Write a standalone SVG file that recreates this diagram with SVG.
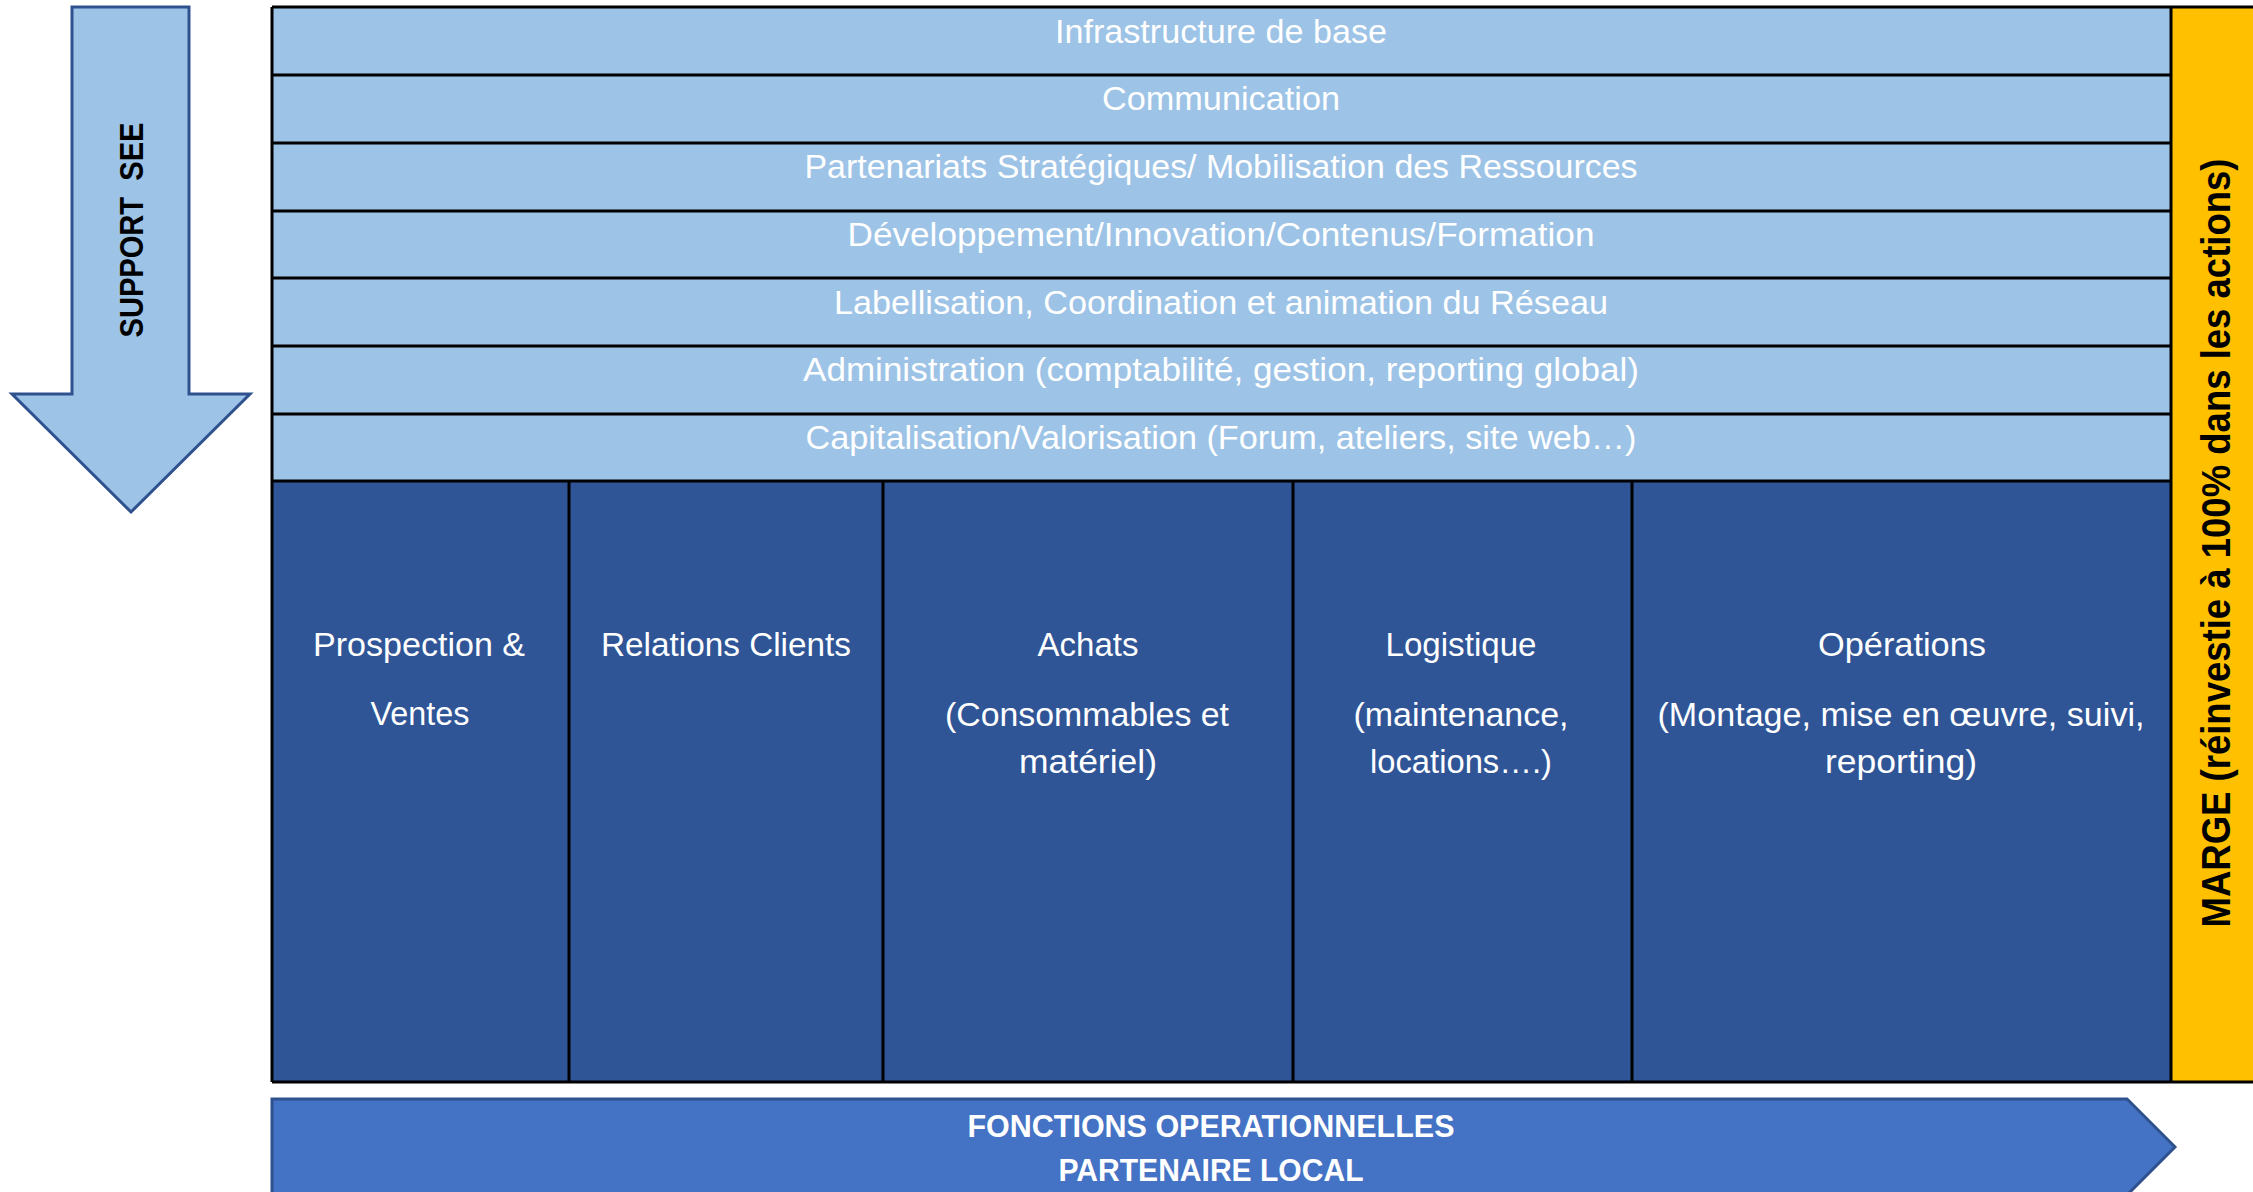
<svg xmlns="http://www.w3.org/2000/svg" width="2253" height="1192" viewBox="0 0 2253 1192">
<style>
.row{fill:#9DC3E6}
.dark{fill:#2F5597}
.grid{stroke:#000;stroke-width:3;fill:none}
.t{font-family:"Liberation Sans",Arial,sans-serif;font-size:33px;fill:#fff;text-anchor:middle}
.b{font-family:"Liberation Sans",Arial,sans-serif;font-weight:bold;text-anchor:middle}
</style>
<rect width="2253" height="1192" fill="#fff"/>
<g id="support-arrow">
<polygon points="72,7 189,7 189,394 250,394 131,512 12,394 72,394" fill="#9DC3E6" stroke="#2F528F" stroke-width="3"/>
<text class="b" xml:space="preserve" style="white-space:pre" font-size="33" fill="#000" transform="translate(143,230) rotate(-90)" textLength="215" lengthAdjust="spacingAndGlyphs">SUPPORT  SEE</text>
</g>
<g id="marge">
<rect x="2171" y="7" width="82" height="1075" fill="#FFC000"/>
<text class="b" font-size="40" fill="#000" transform="translate(2230,543) rotate(-90)" textLength="769" lengthAdjust="spacingAndGlyphs">MARGE (réinvestie à 100% dans les actions)</text>
</g>
<g id="support-rows">
<rect class="row" x="272" y="7" width="1899" height="474"/>
<g id="row1"><text class="t" x="1221" y="43" textLength="332" lengthAdjust="spacingAndGlyphs">Infrastructure de base</text></g>
<g id="row2"><text class="t" x="1221" y="110" textLength="238" lengthAdjust="spacingAndGlyphs">Communication</text></g>
<g id="row3"><text class="t" x="1221" y="178" textLength="833" lengthAdjust="spacingAndGlyphs">Partenariats Stratégiques/ Mobilisation des Ressources</text></g>
<g id="row4"><text class="t" x="1221" y="246" textLength="747" lengthAdjust="spacingAndGlyphs">Développement/Innovation/Contenus/Formation</text></g>
<g id="row5"><text class="t" x="1221" y="314" textLength="774" lengthAdjust="spacingAndGlyphs">Labellisation, Coordination et animation du Réseau</text></g>
<g id="row6"><text class="t" x="1221" y="381" textLength="836" lengthAdjust="spacingAndGlyphs">Administration (comptabilité, gestion, reporting global)</text></g>
<g id="row7"><text class="t" x="1221" y="449" textLength="831" lengthAdjust="spacingAndGlyphs">Capitalisation/Valorisation (Forum, ateliers, site web…)</text></g>
</g>
<g id="operations">
<rect class="dark" x="272" y="481" width="1899" height="601"/>
<g id="col1">
<text class="t" x="419" y="656" textLength="212" lengthAdjust="spacingAndGlyphs">Prospection &amp;</text>
<text class="t" x="420" y="725" textLength="99" lengthAdjust="spacingAndGlyphs">Ventes</text>
</g>
<g id="col2">
<text class="t" x="726" y="656" textLength="250" lengthAdjust="spacingAndGlyphs">Relations Clients</text>
</g>
<g id="col3">
<text class="t" x="1088" y="656" textLength="101" lengthAdjust="spacingAndGlyphs">Achats</text>
<text class="t" x="1087" y="726" textLength="284" lengthAdjust="spacingAndGlyphs">(Consommables et</text>
<text class="t" x="1088" y="773" textLength="138" lengthAdjust="spacingAndGlyphs">matériel)</text>
</g>
<g id="col4">
<text class="t" x="1461" y="656" textLength="151" lengthAdjust="spacingAndGlyphs">Logistique</text>
<text class="t" x="1461" y="726" textLength="215" lengthAdjust="spacingAndGlyphs">(maintenance,</text>
<text class="t" x="1461" y="773" textLength="182" lengthAdjust="spacingAndGlyphs">locations….)</text>
</g>
<g id="col5">
<text class="t" x="1902" y="656" textLength="168" lengthAdjust="spacingAndGlyphs">Opérations</text>
<text class="t" x="1901" y="726" textLength="487" lengthAdjust="spacingAndGlyphs">(Montage, mise en œuvre, suivi,</text>
<text class="t" x="1901" y="773" textLength="152" lengthAdjust="spacingAndGlyphs">reporting)</text>
</g>
</g>
<g id="grid">
<path class="grid" d="M272,7H2253 M272,75H2171 M272,143H2171 M272,211H2171 M272,278H2171 M272,346H2171 M272,414H2171 M272,481H2171 M272,1082H2253 M272,7V1082 M2171,7V1082 M569,481V1082 M883,481V1082 M1293,481V1082 M1632,481V1082"/>
</g>
<g id="fonctions-arrow">
<polygon points="272,1099 2127,1099 2175,1147 2127,1195 272,1195" fill="#4472C4" stroke="#2F528F" stroke-width="3"/>
<text class="b" font-size="32" fill="#fff" x="1211" y="1137" textLength="487" lengthAdjust="spacingAndGlyphs">FONCTIONS OPERATIONNELLES</text>
<text class="b" font-size="32" fill="#fff" x="1211" y="1181" textLength="305" lengthAdjust="spacingAndGlyphs">PARTENAIRE LOCAL</text>
</g>
</svg>
